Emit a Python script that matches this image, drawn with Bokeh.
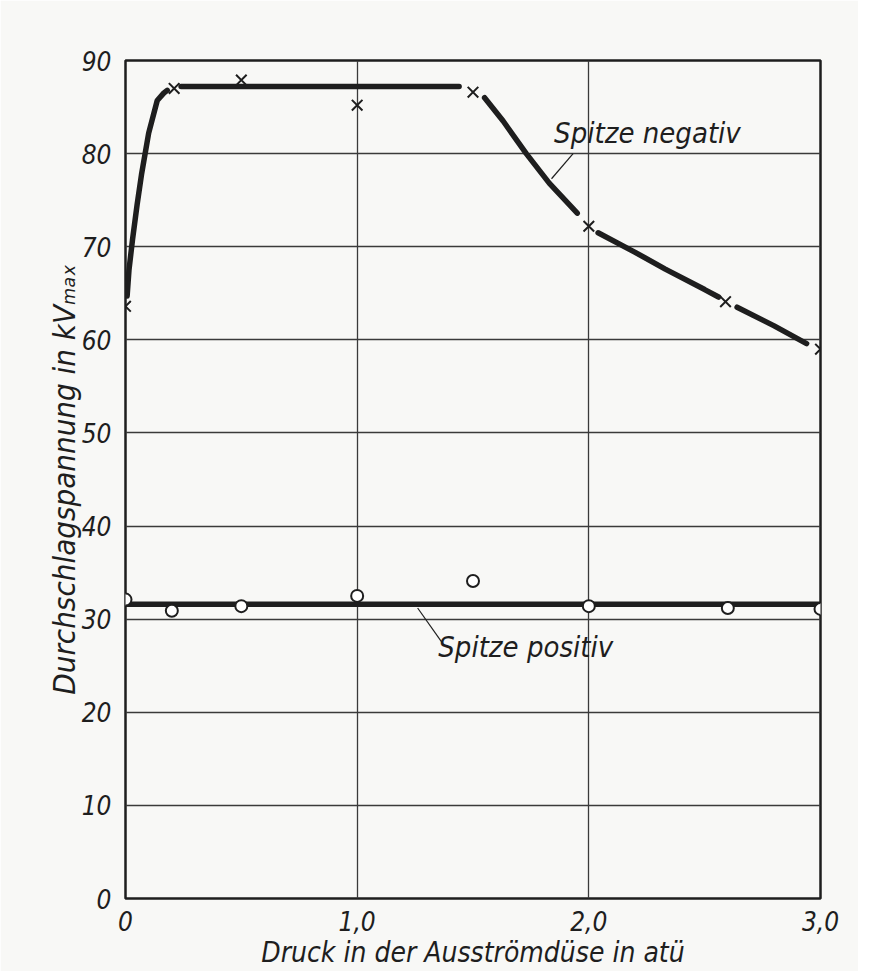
from bokeh.plotting import figure
from bokeh.models import Label, Range1d, FixedTicker
from bokeh.embed import file_html
from bokeh.resources import INLINE

# ---- data ----
# measured points, "Spitze negativ" (crosses)
neg_x = [0.0, 0.21, 0.50, 1.0, 1.50, 2.0, 2.59, 3.0]
neg_y = [63.6, 87.0, 87.9, 85.2, 86.6, 72.2, 64.1, 59.0]
# drawn curve for "Spitze negativ" (broken at markers as in the drawing)
neg_curve_x = [
    [0.007, 0.015, 0.03, 0.05, 0.07, 0.10, 0.137, 0.165, 0.18],
    [0.24, 1.44],
    [1.55, 1.63, 1.73, 1.83, 1.95],
    [2.04, 2.20, 2.33, 2.50, 2.56],
    [2.64, 2.80, 2.94],
]
neg_curve_y = [
    [64.7, 67.5, 70.7, 74.5, 77.9, 82.2, 85.7, 86.5, 86.8],
    [87.2, 87.2],
    [86.0, 83.5, 80.0, 76.8, 73.6],
    [71.5, 69.4, 67.6, 65.4, 64.6],
    [63.5, 61.5, 59.6],
]
# measured points, "Spitze positiv" (circles)
pos_x = [0.0, 0.20, 0.50, 1.0, 1.50, 2.0, 2.60, 3.0]
pos_y = [32.1, 30.9, 31.4, 32.5, 34.1, 31.4, 31.2, 31.1]
pos_curve_x = [0.0, 3.0]
pos_curve_y = [31.6, 31.6]

x_ticks = [0, 1, 2, 3]
x_tick_labels = {0: "0", 1: "1,0", 2: "2,0", 3: "3,0"}
y_ticks = [0, 10, 20, 30, 40, 50, 60, 70, 80, 90]

FONT = "DejaVu Sans Condensed"
INK = "#1e1e1e"
BG = "#f8f8f6"

p = figure(width=858, height=971, output_backend="svg", toolbar_location=None,
           x_range=Range1d(0, 3), y_range=Range1d(0, 90),
           min_border_left=125, min_border_right=38,
           min_border_top=60, min_border_bottom=71)
p.background_fill_color = BG
p.border_fill_color = BG
p.outline_line_color = INK
p.outline_line_width = 2.5

p.xaxis.ticker = FixedTicker(ticks=x_ticks)
p.yaxis.ticker = FixedTicker(ticks=y_ticks)
p.xaxis.major_label_overrides = x_tick_labels
for ax in (p.xaxis, p.yaxis):
    ax.axis_line_color = None
    ax.major_tick_line_color = None
    ax.minor_tick_line_color = None
    ax.major_label_text_font = FONT
    ax.major_label_text_font_style = "italic"
    ax.major_label_text_font_size = "26px"
    ax.major_label_text_color = INK
    ax.axis_label_text_font = FONT
    ax.axis_label_text_font_style = "italic"
    ax.axis_label_text_color = INK
p.xaxis.major_label_standoff = 6
p.yaxis.major_label_standoff = 8
p.xaxis.axis_label = "Druck in der Ausströmdüse in atü"
p.xaxis.axis_label_text_font_size = "28px"
p.xaxis.axis_label_standoff = 2
p.yaxis.axis_label = "Durchschlagspannung in kV\u2098\u2090\u2093"
p.yaxis.axis_label_text_font_size = "31px"
p.yaxis.axis_label_standoff = -3

p.grid.grid_line_color = "#3a3a3a"
p.grid.grid_line_width = 1.3

# negative curve
p.multi_line(neg_curve_x, neg_curve_y, line_color=INK, line_width=5.5, line_cap="round")
p.scatter(neg_x, neg_y, marker="x", size=15, line_color=INK, line_width=2)

# positive curve
p.line(pos_curve_x, pos_curve_y, line_color=INK, line_width=5.5)
p.scatter(pos_x, pos_y, marker="circle", size=12, line_color=INK, line_width=2,
          fill_color="white")

# leader lines
p.line([1.839, 1.932], [77.3, 80.0], line_color=INK, line_width=1.2)
p.line([1.261, 1.366], [31.2, 27.5], line_color=INK, line_width=1.2)

p.add_layout(Label(x=1.85, y=82.2, text="Spitze negativ", text_font=FONT,
                   text_font_style="italic", text_font_size="29px",
                   text_color=INK, text_baseline="middle", text_align="left"))
p.add_layout(Label(x=1.35, y=27.0, text="Spitze positiv", text_font=FONT,
                   text_font_style="italic", text_font_size="29px",
                   text_color=INK, text_baseline="middle", text_align="left"))

open("out.html", "w").write(file_html(p, INLINE))
